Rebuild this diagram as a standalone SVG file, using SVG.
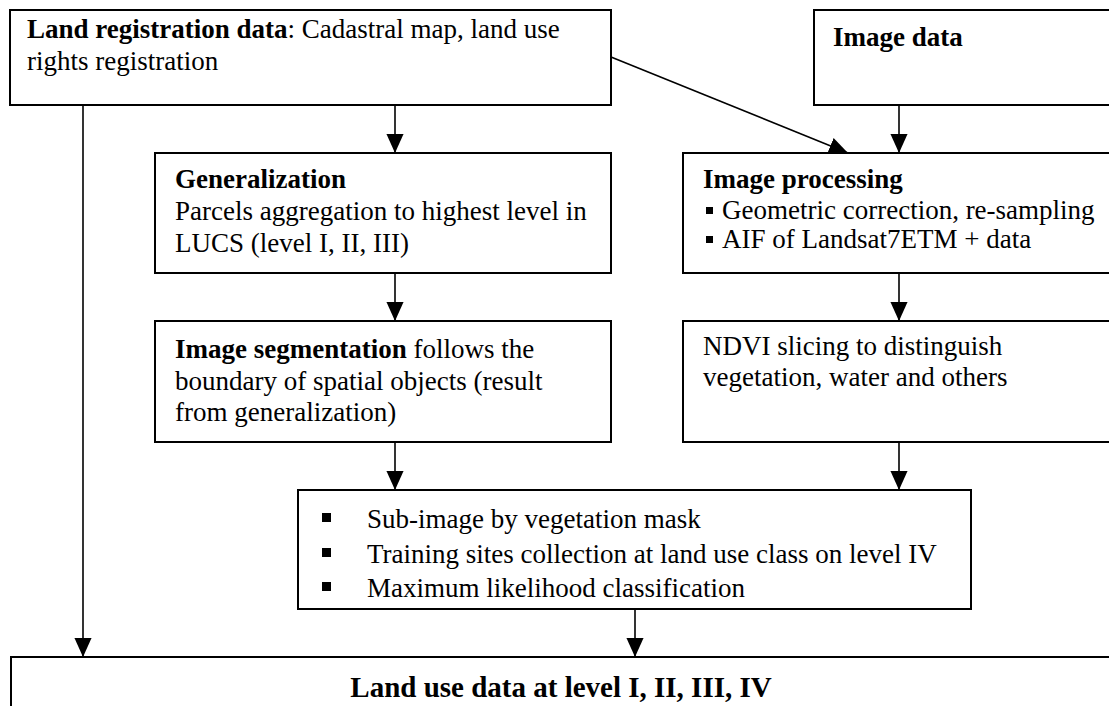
<svg xmlns="http://www.w3.org/2000/svg" width="1109" height="706" viewBox="0 0 1109 706">
<style>
  .box { fill: #ffffff; stroke: #000000; stroke-width: 2; }
  .t { font-family: "Liberation Serif", "Times New Roman", serif; font-size: 27px; fill: #000000; }
  .b { font-weight: bold; }
  .conn { stroke: #000000; stroke-width: 1.6; fill: none; marker-end: url(#arrow); }
  .sq { fill: #000000; }
</style>
<defs>
  <marker id="arrow" viewBox="0 0 20 20" markerWidth="19" markerHeight="19" refX="20" refY="10" orient="auto" markerUnits="userSpaceOnUse">
    <path d="M0,1 L20,10 L0,19 z" fill="#000000"/>
  </marker>
</defs>
<rect x="0" y="0" width="1109" height="706" fill="#ffffff"/>

<g id="connectors">
  <line class="conn" x1="395" y1="106" x2="395" y2="153"/>
  <line class="conn" x1="899" y1="106" x2="899" y2="153"/>
  <line class="conn" x1="611" y1="57" x2="848" y2="153"/>
  <line class="conn" x1="395" y1="274" x2="395" y2="321"/>
  <line class="conn" x1="899" y1="274" x2="899" y2="321"/>
  <line class="conn" x1="395" y1="443" x2="395" y2="490"/>
  <line class="conn" x1="899" y1="443" x2="899" y2="490"/>
  <line class="conn" x1="83" y1="106" x2="83" y2="657"/>
  <line class="conn" x1="635" y1="610" x2="635" y2="657"/>
</g>

<g id="land-registration">
  <rect class="box" x="10" y="10" width="601" height="95"/>
  <text class="t" x="27" y="38"><tspan class="b">Land registration data</tspan>: Cadastral map, land use</text>
  <text class="t" x="27" y="70">rights registration</text>
</g>

<g id="image-data">
  <rect class="box" x="814" y="10" width="310" height="95"/>
  <text class="t b" x="833" y="46">Image data</text>
</g>

<g id="generalization">
  <rect class="box" x="155" y="153" width="456" height="120"/>
  <text class="t b" x="175" y="188">Generalization</text>
  <text class="t" x="175" y="220">Parcels aggregation to highest level in</text>
  <text class="t" x="175" y="252">LUCS (level I, II, III)</text>
</g>

<g id="image-processing">
  <rect class="box" x="683" y="153" width="440" height="120"/>
  <text class="t b" x="703" y="188">Image processing</text>
  <rect class="sq" x="706" y="207" width="7" height="7"/>
  <text class="t" x="722" y="219">Geometric correction, re-sampling</text>
  <rect class="sq" x="706" y="236" width="7" height="7"/>
  <text class="t" x="722" y="248">AIF of Landsat7ETM + data</text>
</g>

<g id="image-segmentation">
  <rect class="box" x="155" y="321" width="456" height="121"/>
  <text class="t" x="175" y="358"><tspan class="b">Image segmentation</tspan> follows the</text>
  <text class="t" x="175" y="390">boundary of spatial objects (result</text>
  <text class="t" x="175" y="421">from generalization)</text>
</g>

<g id="ndvi">
  <rect class="box" x="683" y="321" width="440" height="121"/>
  <text class="t" x="703" y="355">NDVI slicing to distinguish</text>
  <text class="t" x="703" y="386">vegetation, water and others</text>
</g>

<g id="classification">
  <rect class="box" x="298" y="490" width="673" height="119"/>
  <rect class="sq" x="322" y="513" width="9" height="9"/>
  <text class="t" x="367" y="528">Sub-image by vegetation mask</text>
  <rect class="sq" x="322" y="548" width="9" height="9"/>
  <text class="t" x="367" y="563">Training sites collection at land use class on level IV</text>
  <rect class="sq" x="322" y="582" width="9" height="9"/>
  <text class="t" x="367" y="597">Maximum likelihood classification</text>
</g>

<g id="land-use-data">
  <rect class="box" x="11" y="657" width="1115" height="100"/>
  <text class="t b" x="561" y="697" text-anchor="middle" style="font-size:29px">Land use data at level I, II, III, IV</text>
</g>
</svg>
